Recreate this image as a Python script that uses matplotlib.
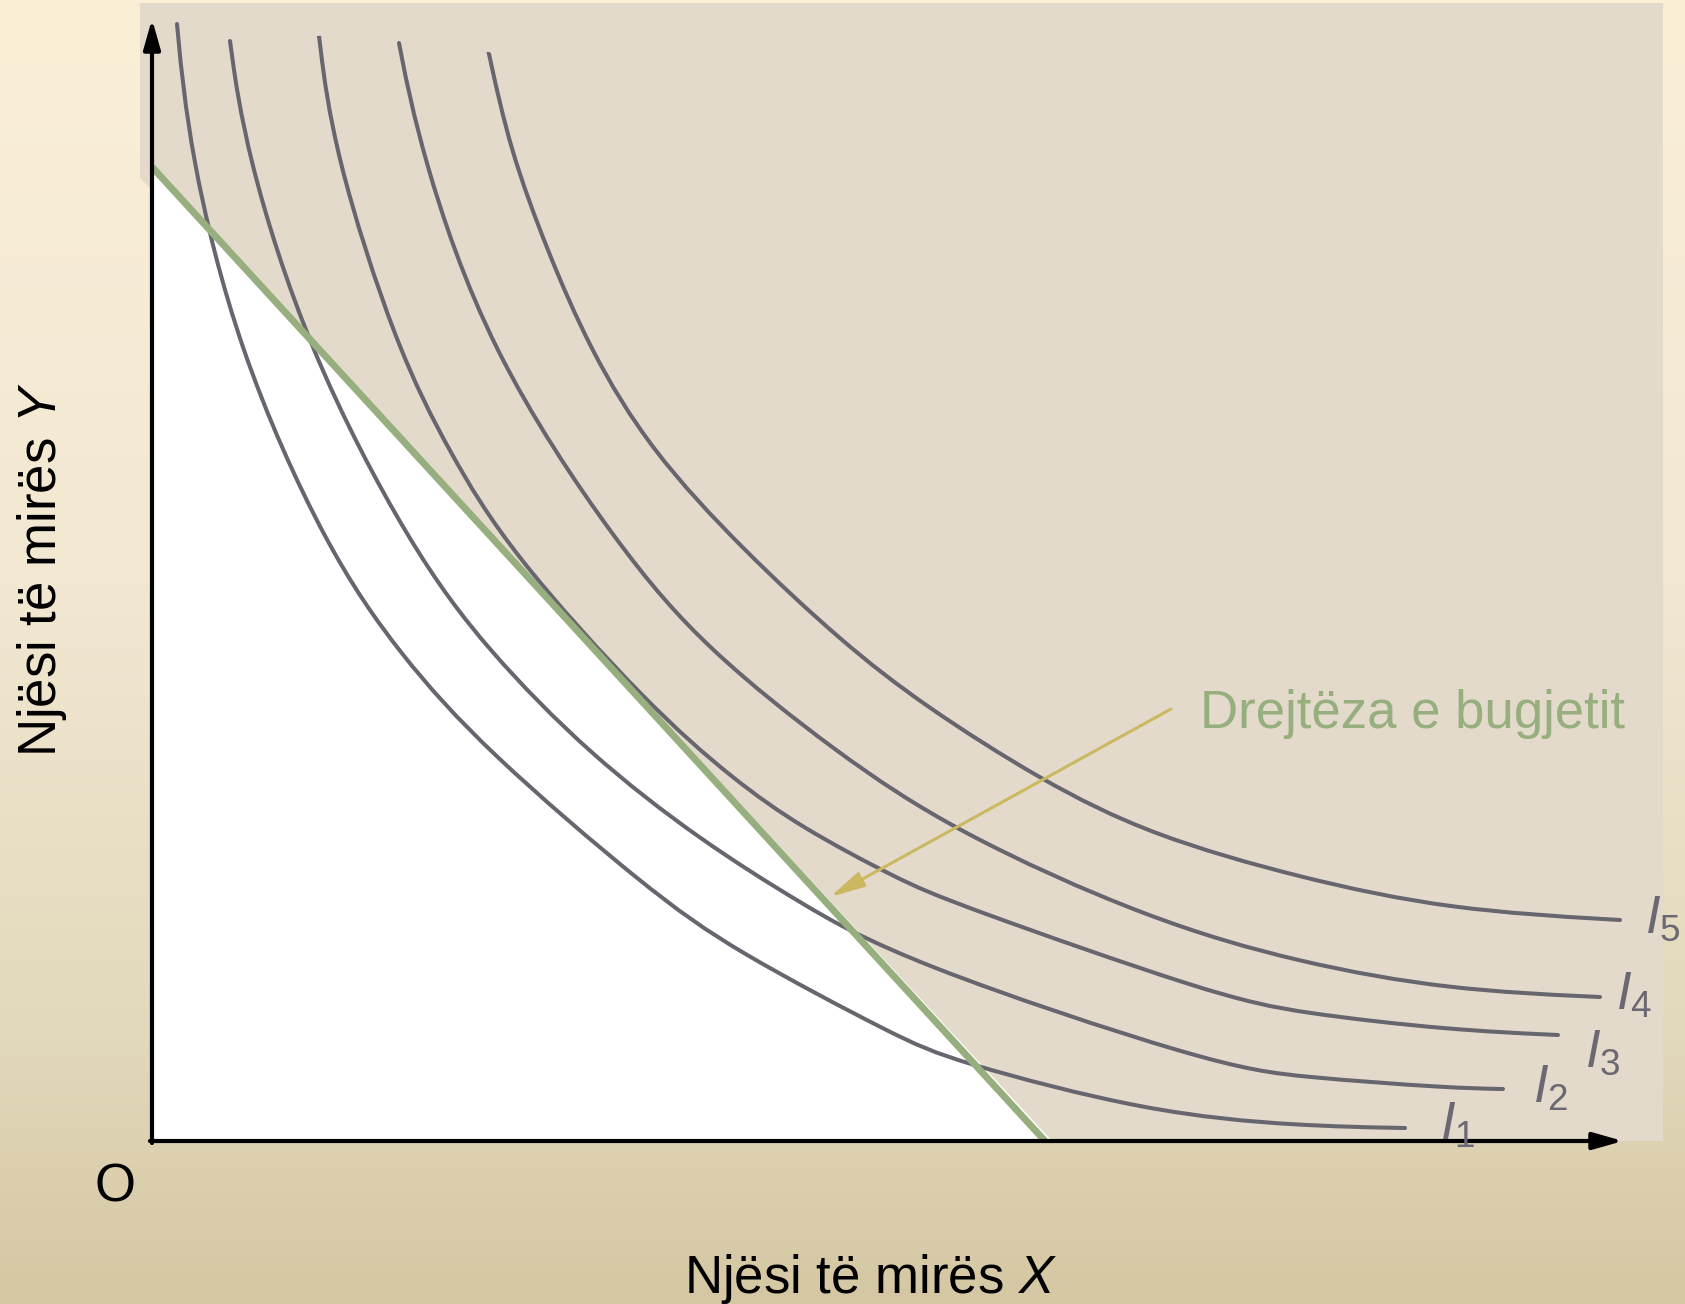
import matplotlib
matplotlib.use("Agg")
import matplotlib.pyplot as plt
import numpy as np
from matplotlib.path import Path
from matplotlib.patches import PathPatch, Polygon

plt.rcParams['font.family'] = ['Liberation Sans', 'DejaVu Sans']
plt.rcParams['mathtext.fontset'] = 'custom'
plt.rcParams['mathtext.rm'] = 'Liberation Sans'
plt.rcParams['mathtext.it'] = 'Liberation Sans:italic'

# indifference curves I1..I5
i1_x = [0.25, 0.37, 0.85, 1.75, 2.48, 3.33, 4.98, 5.81, 7.48, 7.98, 9.98, 11.48, 12.53]
i1_y = [11.17, 9.91, 7.91, 5.91, 4.86, 3.91, 2.50, 1.91, 1.03, 0.81, 0.28, 0.15, 0.13]
i2_x = [0.78, 0.93, 1.55, 2.60, 3.35, 4.38, 5.48, 6.48, 7.48, 10.65, 11.48, 12.98, 13.51]
i2_y = [11.00, 9.91, 7.91, 5.91, 4.91, 3.86, 3.01, 2.38, 1.81, 0.75, 0.64, 0.53, 0.52]
i3_x = [1.67, 1.81, 2.45, 2.98, 3.56, 4.98, 5.81, 6.48, 7.48, 7.98, 10.65, 11.48, 12.98, 14.06]
i3_y = [11.05, 9.91, 7.91, 6.88, 5.91, 4.34, 3.62, 3.14, 2.61, 2.39, 1.45, 1.28, 1.11, 1.06]
i4_x = [2.47, 2.68, 3.35, 4.68, 5.55, 6.85, 8.01, 9.98, 11.48, 12.98, 14.48]
i4_y = [10.98, 9.91, 7.91, 5.91, 4.91, 3.88, 3.10, 2.21, 1.78, 1.51, 1.44]
i5_x = [3.37, 3.58, 3.95, 4.38, 4.98, 5.91, 6.91, 7.71, 8.90, 9.98, 11.48, 12.98, 14.68]
i5_y = [10.87, 9.91, 8.91, 7.91, 6.91, 5.91, 4.98, 4.36, 3.60, 3.06, 2.63, 2.31, 2.21]
curve_names = ['1', '2', '3', '4', '5']
label_x = [12.88, 13.81, 14.33, 14.64, 14.93]
label_y = [0.01, 0.38, 0.74, 1.31, 2.08]

# budget line intercepts
budget_x = [0.0, 8.93]
budget_y = [9.74, 0.0]


def smooth(xs, ys):
    # clamped cubic b-spline with the read points as control points
    p = np.column_stack([xs, ys])
    q = np.vstack([p[0], p[0], p, p[-1], p[-1]])
    verts = [q[0]]
    codes = [Path.MOVETO]
    for i in range(1, len(q) - 2):
        a, b, c, d = q[i - 1], q[i], q[i + 1], q[i + 2]
        verts += [(2 * b + c) / 3, (b + 2 * c) / 3, (b + 4 * c + d) / 6]
        codes += [Path.CURVE4] * 3
    return Path(verts, codes)


fig = plt.figure(figsize=(16.85, 13.04), dpi=100)

# background gradient
bg = fig.add_axes([0, 0, 1, 1])
stops = [0.0, 0.45, 0.8, 1.0]
cols = np.array([[251, 239, 214], [242, 232, 210], [226, 216, 186], [213, 199, 163]]) / 255
t = np.linspace(0, 1, 400)
grad = np.stack([np.interp(t, stops, cols[:, k]) for k in range(3)], axis=1)
bg.imshow(grad[:, None, :], aspect='auto', extent=[0, 1, 0, 1])
bg.axis('off')

ax = fig.add_axes([0, 0, 1, 1])
ax.set_xlim(-1.52, 15.33)
ax.set_ylim(-1.63, 11.41)
ax.patch.set_alpha(0)
ax.axis('off')

panel = Polygon([(-0.12, 11.38), (15.11, 11.38), (15.11, 0), (0, 0), (0, 9.51), (-0.12, 9.63)],
                closed=True, facecolor='#E3DACB', edgecolor='none', zorder=1)
ax.add_patch(panel)
white = Polygon([(0, budget_y[0]), (budget_x[1] + 0.07, 0), (0, 0)], closed=True,
                facecolor='white', edgecolor='none', zorder=2)
ax.add_patch(white)

curves = [(i1_x, i1_y), (i2_x, i2_y), (i3_x, i3_y), (i4_x, i4_y), (i5_x, i5_y)]
for (cx, cy), name, lx, ly in zip(curves, curve_names, label_x, label_y):
    ax.add_patch(PathPatch(smooth(cx, cy), facecolor='none', edgecolor='#67656E',
                           lw=2.9, capstyle='round', zorder=3))
    ax.text(lx, ly, r'$\mathit{I}_{\mathit{%s}}$' % name, fontsize=38, color='#6A6873',
            ha='left', va='baseline', zorder=6)

ax.plot(budget_x, budget_y, color='#97AF7E', lw=5, solid_capstyle='butt', zorder=4)

# axes with arrows
arrow = dict(arrowstyle='-|>,head_length=0.6,head_width=0.17', color='black', lw=3,
             mutation_scale=30, shrinkA=0, shrinkB=0)
ax.annotate('', xy=(0, 11.22), xytext=(0, -0.02), arrowprops=arrow, zorder=5)
ax.annotate('', xy=(14.71, 0), xytext=(-0.02, 0), arrowprops=arrow, zorder=5)

ax.annotate('', xy=(6.78, 2.44), xytext=(10.19, 4.32),
            arrowprops=dict(arrowstyle='-|>,head_length=0.7,head_width=0.16', color='#CDB862',
                            lw=2.2, mutation_scale=30, shrinkA=0, shrinkB=0), zorder=6)
ax.text(10.48, 4.13, 'Drejtëza e bugjetit', fontsize=38, color='#97AF7E',
        ha='left', va='baseline', zorder=6)

ax.text(-0.37, -0.47, 'O', fontsize=38, ha='center', va='center')
ax.text(7.18, -1.52, r'Njësi të mirës $\mathit{X}$', fontsize=38, ha='center', va='baseline')
ax.text(-1.1, 5.71, r'Njësi të mirës $\mathit{Y}$', fontsize=38, ha='center', va='center',
        rotation=90)

fig.savefig('out.png', dpi=100)
